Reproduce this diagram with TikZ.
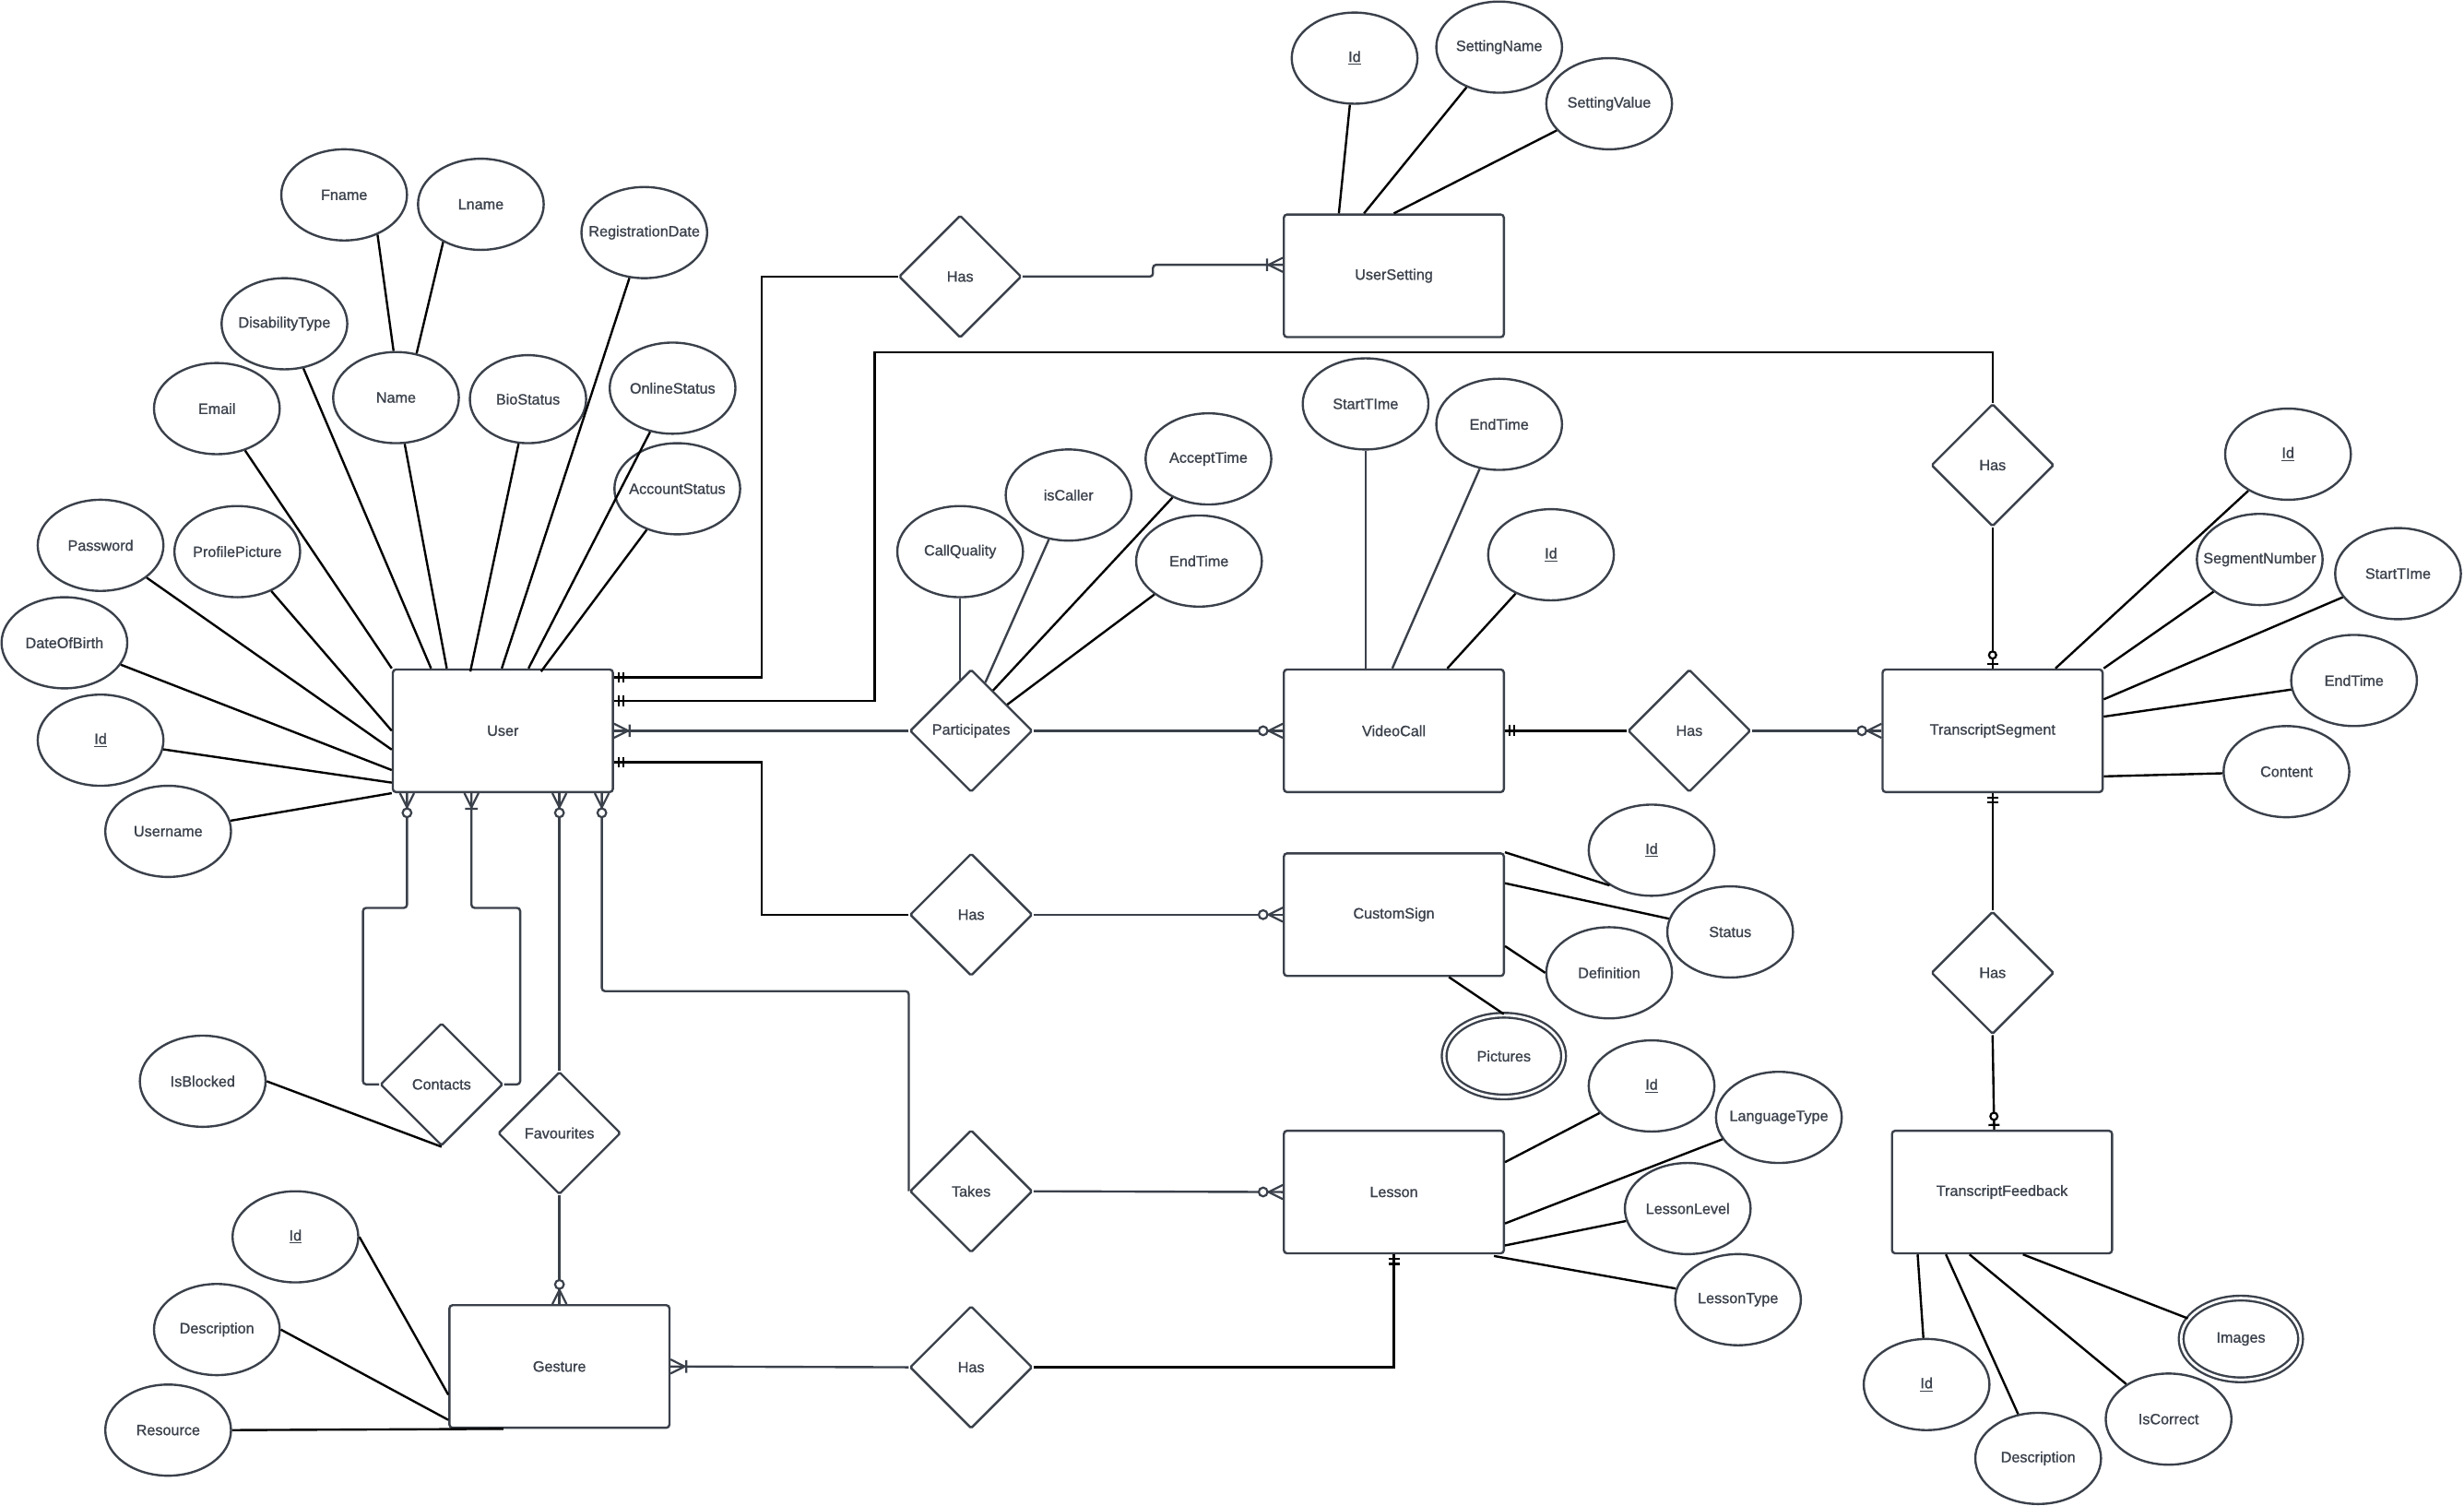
\documentclass[tikz,border=0pt]{standalone}
\usepackage{fontspec}
\setmainfont{Liberation Sans}[FakeBold=1.1]
\usetikzlibrary{shapes.geometric,calc}

\definecolor{slate}{HTML}{3B414B}

% Ký hiệu chân chim: một và chỉ một
\pgfdeclarearrow{
  name = oneone,
  setup code = {
    \pgfarrowssettipend{0pt}
    \pgfarrowssetlineend{0pt}
    \pgfarrowssetbackend{-7pt}
    \pgfarrowssetvisualbackend{-7pt}
  },
  drawing code = {
    \pgfsetlinewidth{1.3pt}
    \pgfsetdash{}{0pt}
    \pgfpathmoveto{\pgfqpoint{-3pt}{3.5pt}}
    \pgfpathlineto{\pgfqpoint{-3pt}{-3.5pt}}
    \pgfpathmoveto{\pgfqpoint{-6pt}{3.5pt}}
    \pgfpathlineto{\pgfqpoint{-6pt}{-3.5pt}}
    \pgfusepathqstroke
  }
}
% Một hoặc nhiều
\pgfdeclarearrow{
  name = onemany,
  setup code = {
    \pgfarrowssettipend{0pt}
    \pgfarrowssetlineend{0pt}
    \pgfarrowssetbackend{-11pt}
    \pgfarrowssetvisualbackend{-11pt}
  },
  drawing code = {
    \pgfsetlinewidth{1.3pt}
    \pgfsetdash{}{0pt}
    \pgfpathmoveto{\pgfqpoint{0pt}{4.5pt}}
    \pgfpathlineto{\pgfqpoint{-9pt}{0pt}}
    \pgfpathlineto{\pgfqpoint{0pt}{-4.5pt}}
    \pgfpathmoveto{\pgfqpoint{-10pt}{4pt}}
    \pgfpathlineto{\pgfqpoint{-10pt}{-4pt}}
    \pgfusepathqstroke
  }
}
% Không hoặc nhiều
\pgfdeclarearrow{
  name = zeromany,
  setup code = {
    \pgfarrowssettipend{0pt}
    \pgfarrowssetlineend{0pt}
    \pgfarrowssetbackend{-16pt}
    \pgfarrowssetvisualbackend{-16pt}
  },
  drawing code = {
    \pgfsetlinewidth{1.3pt}
    \pgfsetdash{}{0pt}
    \pgfpathmoveto{\pgfqpoint{0pt}{4.5pt}}
    \pgfpathlineto{\pgfqpoint{-9pt}{0pt}}
    \pgfpathlineto{\pgfqpoint{0pt}{-4.5pt}}
    \pgfusepathqstroke
    \pgfsetfillcolor{white}
    \pgfpathcircle{\pgfqpoint{-12.5pt}{0pt}}{2.8pt}
    \pgfusepathqfillstroke
  }
}
% Không hoặc một
\pgfdeclarearrow{
  name = zeroone,
  setup code = {
    \pgfarrowssettipend{0pt}
    \pgfarrowssetlineend{0pt}
    \pgfarrowssetbackend{-11pt}
    \pgfarrowssetvisualbackend{-11pt}
  },
  drawing code = {
    \pgfsetlinewidth{1.3pt}
    \pgfsetdash{}{0pt}
    \pgfpathmoveto{\pgfqpoint{-3pt}{3.5pt}}
    \pgfpathlineto{\pgfqpoint{-3pt}{-3.5pt}}
    \pgfusepathqstroke
    \pgfsetfillcolor{white}
    \pgfpathcircle{\pgfqpoint{-8.5pt}{0pt}}{2.3pt}
    \pgfusepathqfillstroke
  }
}

\begin{document}
\begin{tikzpicture}[x=1pt, y=-1pt,
    every node/.style={font=\fontsize{9.5}{11}\selectfont, text=slate},
    entity/.style={draw=slate, line width=1.4pt, rounded corners=2pt,
        minimum width=140pt, minimum height=78pt, inner sep=0pt},
    rel/.style={draw=slate, line width=1.4pt, diamond, aspect=1, rounded corners=1pt,
        minimum width=78pt, minimum height=78pt, inner sep=1pt},
    attr/.style={draw=slate, line width=1.4pt, ellipse,
        minimum width=80pt, minimum height=58pt, inner xsep=-8pt, inner ysep=2pt},
    multi/.style={attr, double, double distance=1.6pt, minimum width=76pt, minimum height=52pt},
    link/.style={draw=slate, line width=1.4pt, rounded corners=2pt},
    blk/.style={draw=black, line width=1.4pt}]
    \useasboundingbox (0,0) rectangle (1568,958);

    % 1. Các thực thể
    \node[entity] (user) at (320,465) {User};
    \node[entity] (uset) at (887,175.5) {UserSetting};
    \node[entity] (vc) at (887,465) {VideoCall};
    \node[entity] (ts) at (1268,465) {TranscriptSegment};
    \node[entity] (cs) at (887,582) {CustomSign};
    \node[entity] (lesson) at (887,758.5) {Lesson};
    \node[entity] (tf) at (1274,758.5) {TranscriptFeedback};
    \node[entity] (gest) at (356,869.5) {Gesture};

    % 2. Các quan hệ
    \node[rel] (hasset) at (611,176) {Has};
    \node[rel] (part) at (618,465) {Participates};
    \node[rel] (hasvt) at (1075,465) {Has};
    \node[rel] (hasts) at (1268,296) {Has};
    \node[rel] (hascs) at (618,582) {Has};
    \node[rel] (takes) at (618,758) {Takes};
    \node[rel] (hasgl) at (618,870) {Has};
    \node[rel] (hastf) at (1268,619) {Has};
    \node[rel] (contacts) at (281,690) {Contacts};
    \node[rel] (fav) at (356,721) {Favourites};

    % 3. Thuộc tính của User
    \node[attr] (fname) at (219,124) {Fname};
    \node[attr] (lname) at (306,130) {Lname};
    \node[attr] (regdate) at (410,148) {RegistrationDate};
    \node[attr] (distype) at (181,206) {DisabilityType};
    \node[attr] (email) at (138,260) {Email};
    \node[attr] (name) at (252,253) {Name};
    \node[attr, minimum width=74pt, minimum height=56pt] (bio) at (336,254) {BioStatus};
    \node[attr] (online) at (428,247) {OnlineStatus};
    \node[attr] (account) at (431,311) {AccountStatus};
    \node[attr] (passwd) at (64,347) {Password};
    \node[attr] (profpic) at (151,351) {ProfilePicture};
    \node[attr] (dob) at (41,409) {DateOfBirth};
    \node[attr] (uid) at (64,471) {\underline{Id}};
    \node[attr] (uname) at (107,529) {Username};

    % Thuộc tính của các thực thể khác
    \node[attr] (usid) at (862,37) {\underline{Id}};
    \node[attr] (setname) at (954,30) {SettingName};
    \node[attr] (setval) at (1024,66) {SettingValue};

    \node[attr] (cq) at (611,351) {CallQuality};
    \node[attr] (iscaller) at (680,315) {isCaller};
    \node[attr] (accept) at (769,292) {AcceptTime};
    \node[attr] (pend) at (763,357) {EndTime};

    \node[attr] (vst) at (869,257) {StartTIme};
    \node[attr] (vet) at (954,270) {EndTime};
    \node[attr] (vid) at (987,353) {\underline{Id}};

    \node[attr] (tsid) at (1456,289) {\underline{Id}};
    \node[attr] (segno) at (1438,356) {SegmentNumber};
    \node[attr] (tsst) at (1526,365) {StartTIme};
    \node[attr] (tset) at (1498,433) {EndTime};
    \node[attr] (tscont) at (1455,491) {Content};

    \node[attr] (csid) at (1051,541) {\underline{Id}};
    \node[attr] (csstat) at (1101,593) {Status};
    \node[attr] (csdef) at (1024,619) {Definition};
    \node[multi] (cspic) at (957,672) {Pictures};

    \node[attr] (lid) at (1051,691) {\underline{Id}};
    \node[attr] (llang) at (1132,711) {LanguageType};
    \node[attr] (llevel) at (1074,769) {LessonLevel};
    \node[attr] (ltype) at (1106,827) {LessonType};

    \node[attr] (fid) at (1226,881) {\underline{Id}};
    \node[attr] (fdesc) at (1297,928) {Description};
    \node[attr] (fcorr) at (1380,903) {IsCorrect};
    \node[multi] (fimg) at (1426,852) {Images};

    \node[attr] (gid) at (188,787) {\underline{Id}};
    \node[attr] (gdesc) at (138,846) {Description};
    \node[attr] (gres) at (107,910) {Resource};

    \node[attr] (isb) at (129,688) {IsBlocked};

    % 4. Nối thuộc tính
    \draw[blk] (fname.-50) -- (name.93);
    \draw[blk] (lname.-135) -- (name.65);
    \draw[blk] (email) -- (user.north west);
    \draw[blk] (distype) -- ($(user.north west)+(25,0)$);
    \draw[blk] (name) -- ($(user.north west)+(35,0)$);
    \draw[blk] (bio) -- ($(user.north west)+(50,2)$);
    \draw[blk] (regdate) -- ($(user.north west)+(70,0)$);
    \draw[blk] (online) -- ($(user.north west)+(87,0)$);
    \draw[blk] (account) -- ($(user.north west)+(95,2)$);
    \draw[blk] (profpic) -- (user.west);
    \draw[blk] (passwd) -- ($(user.west)+(0,12)$);
    \draw[blk] (dob) -- ($(user.west)+(0,25)$);
    \draw[blk] (uid) -- ($(user.west)+(0,33)$);
    \draw[blk] (uname) -- (user.south west);

    \draw[blk] (usid) -- ($(uset.north)+(-35,0)$);
    \draw[blk] (setname) -- ($(uset.north)+(-19,0)$);
    \draw[blk] (setval) -- (uset.north);

    \draw[link] (cq) -- ($(part.north)+(-7,7)$);
    \draw[link] (iscaller) -- ($(part.north)+(9,9)$);
    \draw[blk] (accept) -- ($(part.north)+(14,14)$);
    \draw[blk] (pend) -- ($(part.north)+(23,23)$);

    \draw[link] (vst) -- (vst |- vc.north);
    \draw[link] (vet) -- ($(vc.north)+(-1,0)$);
    \draw[blk] (vid) -- ($(vc.north)+(34,0)$);

    \draw[blk] (tsid) -- ($(ts.north)+(40,0)$);
    \draw[blk] (segno) -- (ts.north east);
    \draw[blk] (tsst) -- ($(ts.east)+(0,-20)$);
    \draw[blk] (tset) -- ($(ts.east)+(0,-9)$);
    \draw[blk] (tscont) -- ($(ts.east)+(0,29)$);

    \draw[blk] (csid.-140) -- (cs.north east);
    \draw[blk] (csstat) -- ($(cs.east)+(0,-20)$);
    \draw[blk] (csdef.west) -- ($(cs.east)+(0,20)$);
    \draw[blk] (cspic.north) -- ($(cs.south)+(35,0)$);

    \draw[blk] (lid) -- ($(lesson.east)+(0,-19)$);
    \draw[blk] (llang) -- ($(lesson.east)+(0,20)$);
    \draw[blk] (llevel) -- ($(lesson.east)+(0,34)$);
    \draw[blk] (ltype) -- ($(lesson.south east)+(-7,1)$);

    \draw[blk] (fid) -- ($(tf.south west)+(17,0)$);
    \draw[blk] (fdesc) -- ($(tf.south west)+(35,0)$);
    \draw[blk] (fcorr) -- ($(tf.south west)+(50,0)$);
    \draw[blk] (fimg) -- ($(tf.south west)+(84,0)$);

    \draw[blk] (gid.east) -- ($(gest.west)+(0,18)$);
    \draw[blk] (gdesc.east) -- ($(gest.west)+(0,34)$);
    \draw[blk] (gres.east) -- ($(gest.south west)+(35,0)$);

    \draw[blk] (isb.east) -- (contacts.south);

    % 5. Nối quan hệ
    \draw[blk, -oneone] (hasset.west) -| ($(user.east)+(94,-34)$) -- ($(user.east)+(0,-34)$);
    \draw[link, -onemany] (hasset.east) -- ++(83,0) |- ($(uset.west)+(0,-7)$);
    \draw[blk, -oneone] (hasts.north) |- ($(user.east)+(166,-241)$)
        -- ($(user.east)+(166,-19)$) -- ($(user.east)+(0,-19)$);
    \draw[blk, -zeroone] (hasts.south) -- (ts.north);

    \draw[link, -onemany] (part.west) -- (user.east);
    \draw[link, -zeromany] (part.east) -- (vc.west);
    \draw[blk, -oneone] (hasvt.west) -- (vc.east);
    \draw[link, -zeromany] (hasvt.east) -- (ts.west);

    \draw[blk, -oneone] (hascs.west) -| ($(user.east)+(94,20)$) -- ($(user.east)+(0,20)$);
    \draw[link, -zeromany] (hascs.east) -- (cs.west);

    \draw[link, -zeromany] (takes.west) |- ($(user.south)+(63,126)$) -- ($(user.south)+(63,0)$);
    \draw[link, -zeromany] (takes.east) -- (lesson.west);

    \draw[blk, -oneone] (hasgl.east) -| (lesson.south);
    \draw[link, -onemany] (hasgl.west) -- (gest.east);

    \draw[blk, -oneone] (hastf.north) -- (ts.south);
    \draw[blk, -zeroone] (hastf.south) -- ($(tf.north)+(-5,0)$);

    \draw[link, -zeromany] (contacts.west) -| ($(user.south)+(-89,73)$) -| ($(user.south)+(-61,0)$);
    \draw[link, -onemany] (contacts.east) -| ($(user.south)+(11,73)$) -| ($(user.south)+(-20,0)$);
    \draw[link, -zeromany] (fav.north) -- (fav.north |- user.south);
    \draw[link, -zeromany] (fav.south) -- (gest.north);
\end{tikzpicture}
\end{document}
